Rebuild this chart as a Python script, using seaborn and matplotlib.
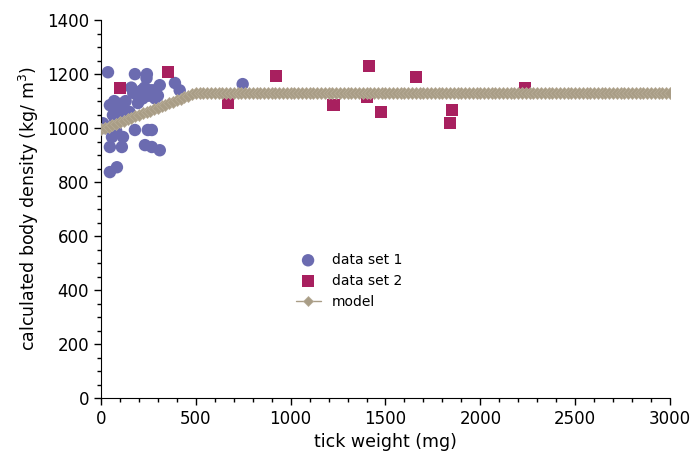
import numpy as np
import pandas as pd
import matplotlib.pyplot as plt
import seaborn as sns
from matplotlib.ticker import MultipleLocator

# data set 1 (circles)
ds1_x = [37, 179, 242, 240, 47, 63, 80, 100, 90, 205, 195, 230, 260, 310, 274,
         390, 415, 10, 20, 58, 116, 80, 179, 247, 268, 47, 110, 232, 268, 310,
         47, 84, 747, 150, 220, 130, 60, 160, 300, 170, 215, 250, 285, 120, 70]
ds1_y = [1207, 1200, 1200, 1185, 1085, 1048, 1070, 1090, 1040, 1130, 1093, 1150, 1140, 1159, 1140,
         1167, 1140, 1018, 1000, 967, 967, 990, 993, 993, 993, 930, 930, 937, 930, 918,
         837, 855, 1163, 1060, 1110, 1100, 1010, 1150, 1120, 1130, 1140, 1120, 1110, 1070, 1100]

# data set 2 (squares)
ds2_x = [100, 353, 668, 921, 1226, 1411, 1400, 1474, 1663, 1853, 1842, 2237]
ds2_y = [1148, 1207, 1093, 1193, 1085, 1230, 1115, 1059, 1189, 1067, 1019, 1148]

# model: linear rise then plateau
model_x0, model_y0 = 0, 995
model_xb, model_yb = 500, 1130
model_xmax = 3000
model_step = 20

mx = np.arange(model_x0, model_xmax + model_step, model_step)
my = np.where(mx < model_xb,
              model_y0 + (model_yb - model_y0) * mx / model_xb,
              model_yb)

df1 = pd.DataFrame({"x": ds1_x, "y": ds1_y})
df2 = pd.DataFrame({"x": ds2_x, "y": ds2_y})
dfm = pd.DataFrame({"x": mx, "y": my})

sns.set_style("ticks")
plt.rcParams['font.family'] = ['DejaVu Sans']

fig = plt.figure(figsize=(6.95, 4.58), dpi=100)
ax = fig.add_axes([0.1453, 0.131, 0.8187, 0.825])

sns.scatterplot(data=df1, x="x", y="y", ax=ax, marker="o", s=80,
                color="#6b6bb0", edgecolor="none", label="data set 1", zorder=2)
sns.scatterplot(data=df2, x="x", y="y", ax=ax, marker="s", s=75,
                color="#a8205f", edgecolor="none", label="data set 2", zorder=3)
sns.lineplot(data=dfm, x="x", y="y", ax=ax, marker="D", markersize=6,
             color="#a99d86", markeredgecolor="#b8ad98", markeredgewidth=0.5,
             linewidth=1, label="model", zorder=4)

ax.set_xlim(0, 3000)
ax.set_ylim(0, 1400)
ax.xaxis.set_major_locator(MultipleLocator(500))
ax.xaxis.set_minor_locator(MultipleLocator(100))
ax.yaxis.set_major_locator(MultipleLocator(200))
ax.yaxis.set_minor_locator(MultipleLocator(50))
ax.tick_params(which="major", length=5, width=1, labelsize=12,
               color="black", labelcolor="black")
ax.tick_params(which="minor", length=3, width=1, color="black")
for s in ["top", "right"]:
    ax.spines[s].set_visible(False)
for s in ["left", "bottom"]:
    ax.spines[s].set_color("black")

ax.set_xlabel("tick weight (mg)", fontsize=12.5, color="black")
ax.set_ylabel("calculated body density (kg/ m$^3$)", fontsize=12.5, color="black")

leg = ax.legend(loc="center left", bbox_to_anchor=(0.32, 0.31), frameon=False,
                fontsize=10, handlelength=1.8, labelspacing=0.5, labelcolor="black")
leg.get_lines()[-1].set_markersize(5) if leg.get_lines() else None

fig.savefig("out.png", dpi=100)
